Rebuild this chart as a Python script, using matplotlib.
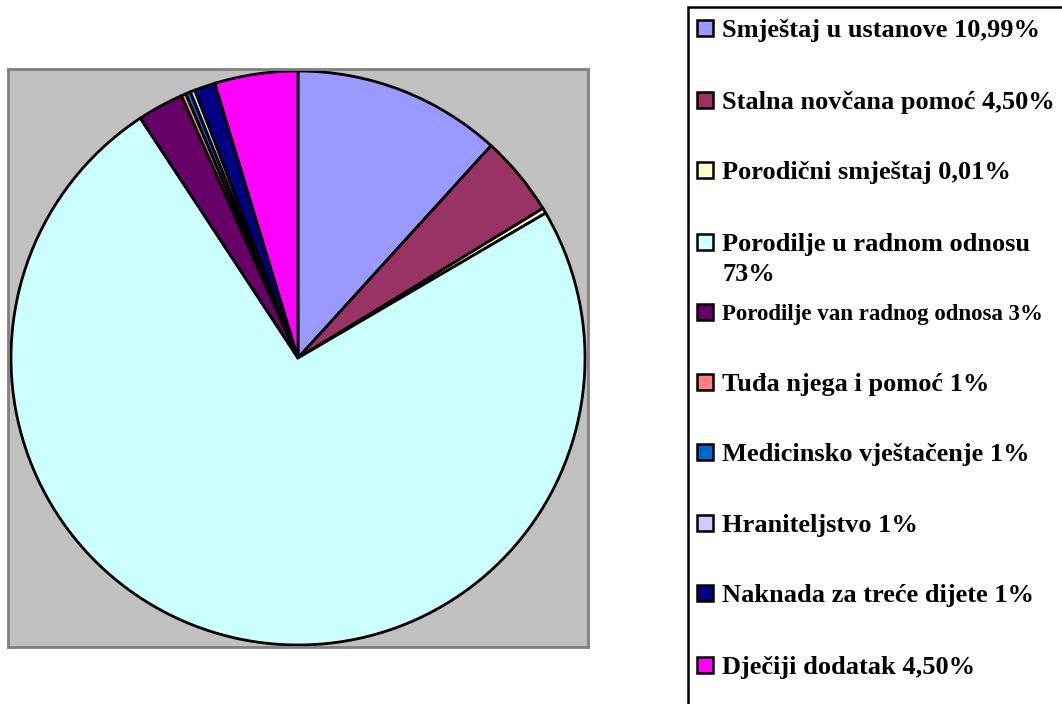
import matplotlib.pyplot as plt
from matplotlib.patches import Rectangle

# udjeli procitani sa slike (u %), redoslijed u smjeru kazaljke od 12h
labels = ["Smještaj u ustanove 10,99%", "Stalna novčana pomoć 4,50%",
          "Porodični smještaj 0,01%", "Porodilje u radnom odnosu\n73%",
          "Porodilje van radnog odnosa 3%", "Tuđa njega i pomoć 1%",
          "Medicinsko vještačenje 1%", "Hraniteljstvo 1%",
          "Naknada za treće dijete 1%", "Dječiji dodatak 4,50%"]
values = [11.75, 4.53, 0.3, 74.2, 2.6, 0.27, 0.27, 0.27, 1.17, 4.68]
colors = ["#9999FF", "#993366", "#FFFFCC", "#CCFFFF", "#660066",
          "#FF8080", "#0066CC", "#CCCCFF", "#000080", "#FF00FF"]

W, H = 1062, 704
fig = plt.figure(figsize=(W / 100, H / 100), dpi=100)

# sivi okvir dijagrama (pikseli)
bx0, by0, bx1, by1 = 8, 69, 588, 647
ax = fig.add_axes([bx0 / W, 1 - by1 / H, (bx1 - bx0) / W, (by1 - by0) / H])
ax.pie(values, colors=colors, startangle=90, counterclock=False,
       radius=287, wedgeprops=dict(edgecolor="black", linewidth=2.0),
       frame=True)
ax.set_aspect("auto")
ax.set_xlim(-(bx1 - bx0) / 2, (bx1 - bx0) / 2)
ax.set_ylim(-(by1 - by0) / 2, (by1 - by0) / 2)
ax.set_facecolor("#C0C0C0")
ax.set_xticks([])
ax.set_yticks([])
for s in ax.spines.values():
    s.set_color("#808080")
    s.set_linewidth(2)

# legenda - rucno, kao u excelu
fig.patches.append(Rectangle((688 / W, -0.05), 0.5, 1.05 - 7 / H,
                             transform=fig.transFigure, facecolor="white",
                             edgecolor="black", linewidth=1.8))
ys = [28, 100, 170, 242, 312, 382, 452, 523, 593, 665]
for lab, c, y in zip(labels, colors, ys):
    fig.patches.append(Rectangle((697 / W, 1 - (y + 8) / H), 16 / W, 16 / H,
                                 transform=fig.transFigure, facecolor=c,
                                 edgecolor="black", linewidth=1.8))
    fs = 16.5 if "van" in lab else 19
    for k, line in enumerate(lab.split("\n")):
        fig.text(722 / W, 1 - (y + 30 * k) / H, line, family="Liberation Serif",
                 weight="bold", fontsize=fs, va="center_baseline")

fig.savefig("out.png", dpi=100)
